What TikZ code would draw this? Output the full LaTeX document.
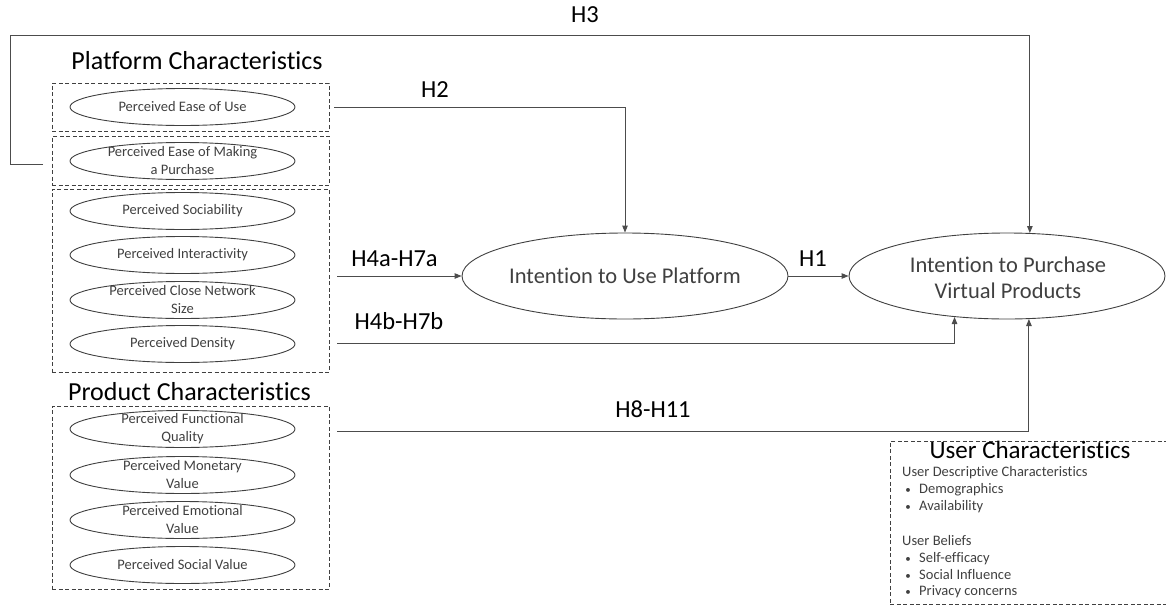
\documentclass[tikz,border=0pt]{standalone}
\usepackage{fontspec}
\setmainfont{Carlito}[Ligatures={NoCommon}]
\usetikzlibrary{shapes.geometric,arrows.meta}
\definecolor{txtgrey}{HTML}{404040}
\begin{document}
\begin{tikzpicture}[x=1pt,y=-1pt,
  dbox/.style={draw=black!75,line width=0.8pt,dash pattern=on 4pt off 2.5pt,inner sep=0pt,minimum width=277pt},
  ell/.style={ellipse,draw=txtgrey,line width=0.9pt,inner sep=0pt,minimum width=225pt,minimum height=37pt},
  bigell/.style={ellipse,draw=txtgrey,line width=0.9pt,inner sep=0pt,minimum height=86pt},
  etext/.style={align=center,text=txtgrey,inner sep=0pt,font=\fontsize{14.5}{18}\selectfont},
  bigtext/.style={align=center,text=txtgrey,inner sep=0pt,font=\fontsize{22.5}{26}\selectfont},
  title/.style={inner sep=0pt,anchor=mid,font=\fontsize{26}{30}\selectfont},
  hlab/.style={inner sep=0pt,anchor=mid,font=\fontsize{24.5}{28}\selectfont},
  conn/.style={draw=black!70,line width=1pt},
  arr/.style={conn,-{Triangle[length=7pt,width=5.5pt]}},
  utext/.style={inner sep=0pt,anchor=mid west,text=txtgrey,font=\fontsize{14.5}{17}\selectfont},
  bul/.style={inner sep=0pt,anchor=center,text=txtgrey,font=\fontsize{11}{13}\selectfont}]
\useasboundingbox (0,0) rectangle (1166,605);

% titles
\node[title] (pctitle) at (197,67) {Platform Characteristics};
\node[title] (prtitle) at (189.5,398) {Product Characteristics};

% dashed groups
\node[dbox,minimum height=48pt] (box1) at (190.5,107) {};
\node[dbox,minimum height=49pt] (box2) at (190.5,160.5) {};
\node[dbox,minimum height=183pt] (box3) at (190.5,280.5) {};
\node[dbox,minimum height=183pt] (box4) at (190.5,497.5) {};

% small ellipses
\node[ell] (e1) at (182.5,107) {};
\node[etext] (t1) at (e1) {Perceived Ease of Use};
\node[ell] (e2) at (182.5,161) {};
\node[etext] (t2) at (e2) {Perceived Ease of Making\\a Purchase};
\node[ell] (e3) at (182.5,211) {};
\node[etext] (t3) at (e3) {Perceived Sociability};
\node[ell] (e4) at (182.5,255) {};
\node[etext] (t4) at (e4) {Perceived Interactivity};
\node[ell] (e5) at (182.5,300) {};
\node[etext] (t5) at (e5) {Perceived Close Network\\Size};
\node[ell] (e6) at (182.5,344) {};
\node[etext] (t6) at (e6) {Perceived Density};
\node[ell] (e7) at (182.5,429) {};
\node[etext] (t7) at (e7) {Perceived Functional\\Quality};
\node[ell] (e8) at (182.5,475) {};
\node[etext] (t8) at (e8) {Perceived Monetary\\Value};
\node[ell] (e9) at (182.5,520) {};
\node[etext] (t9) at (e9) {Perceived Emotional\\Value};
\node[ell] (e10) at (182.5,565) {};
\node[etext] (t10) at (e10) {Perceived Social Value};

% big ellipses
\node[bigell,minimum width=326pt] (use) at (625,276) {};
\node[bigtext] (uset) at (use) {Intention to Use Platform};
\node[bigell,minimum width=316pt] (purchase) at (1007,276) {};
\node[bigtext] (purt) at (1008,278) {Intention to Purchase\\Virtual Products};

% user characteristics
\node[dbox,minimum width=285pt,minimum height=163pt,anchor=north west] (ubox) at (890,441) {};
\node[title,font=\fontsize{25}{28}\selectfont] (uctitle) at (1030,456) {User Characteristics};
\node[utext] (ud) at (902,474) {User Descriptive Characteristics};
\node[bul] (b1) at (908,491) {•};
\node[utext] (u1) at (919,491) {Demographics};
\node[bul] (b2) at (908,508) {•};
\node[utext] (u2) at (919,508) {Availability};
\node[utext] (ub) at (902,543) {User Beliefs};
\node[bul] (b3) at (908,560) {•};
\node[utext] (u3) at (919,560) {Self-efficacy};
\node[bul] (b4) at (908,577) {•};
\node[utext] (u4) at (919,577) {Social Influence};
\node[bul] (b5) at (908,593) {•};
\node[utext] (u5) at (919,593) {Privacy concerns};

% connectors
\coordinate (h3s) at (43,164);
\coordinate (h3a) at (10,164);
\coordinate (h3b) at (10,35);
\draw[arr] (h3s) -- (h3a) -- (h3b) -| (purchase.62.7);
\node[hlab] (h3l) at (585,20) {H3};

\draw[arr] ([xshift=5pt]box1.east) -| (use.north);
\node[hlab] (h2l) at (435,95) {H2};

\draw[arr] ([xshift=8pt]box3.east |- use.west) -- (use.west);
\node[hlab] (h4al) at (394.5,264) {H4a-H7a};

\coordinate (h4bs) at (337,343);
\draw[arr] (h4bs) -| (purchase.218);
\node[hlab] (h4bl) at (399,327) {H4b-H7b};

\draw[arr] (use.east) -- (purchase.west);
\node[hlab] (h1l) at (813,264) {H1};

\coordinate (h8s) at (337,431);
\draw[arr] (h8s) -| (purchase.297.3);
\node[hlab] (h8l) at (653,415) {H8-H11};
\end{tikzpicture}
\end{document}
